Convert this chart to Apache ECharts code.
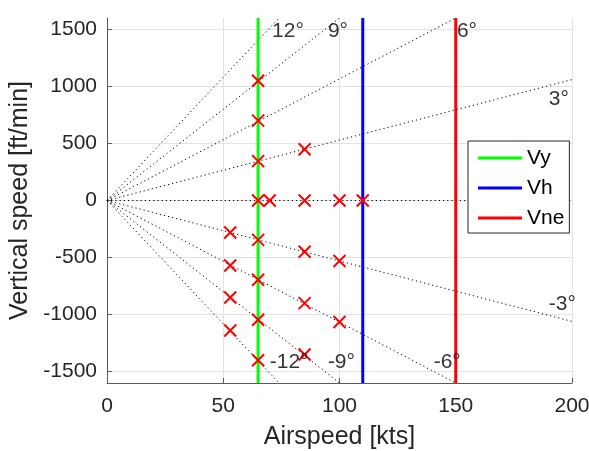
<!DOCTYPE html>
<html>
<head>
<meta charset="utf-8">
<script src="https://cdn.jsdelivr.net/npm/echarts@6/dist/echarts.min.js"></script>
<style>html,body{margin:0;padding:0;background:#fff;}#c{width:589px;height:451px;}</style>
</head>
<body>
<div id="c"></div>
<script>
// ---- data ----
const xTicks = [0, 50, 100, 150, 200];
const yTicks = [-1500, -1000, -500, 0, 500, 1000, 1500];
const xRange = [0, 200];
const yRange = [-1600, 1600];

const speedNames = ['Vy', 'Vh', 'Vne'];
const speedValues = [65, 110, 150];
const speedColors = ['#00ff00', '#0000ff', '#ff0000'];

// glide-angle reference lines: end point where each leaves the plot
const glideNames = ['3°', '6°', '9°', '12°', '0°', '-3°', '-6°', '-9°', '-12°'];
const glideEndX = [200, 150, 100, 74, 200, 200, 150, 100, 74];
const glideEndY = [1060, 1600, 1600, 1600, 0, -1060, -1600, -1600, -1600];

// annotation labels
const angleLabels = ['12°', '9°', '6°', '3°', '-3°', '-6°', '-9°', '-12°'];
const angleLabelX = [71, 95, 150.5, 190, 190, 140.5, 95, 70];
const angleLabelY = [1480, 1480, 1480, 886, -912, -1415, -1415, -1415];

// measured points
const pointX = [65, 65, 65, 65, 70, 85, 85, 100, 110,
                53, 53, 53, 53, 65, 65, 65, 65, 85, 85, 85, 100, 100];
const pointY = [1050, 700, 345, 0, 0, 450, 0, 0, 0,
                -280, -570, -850, -1140, -345, -695, -1045, -1400, -450, -900, -1350, -530, -1065];

// ---- chart ----
const font = 'Liberation Sans, Arial, sans-serif';
const textColor = '#262626';
const axisColor = '#5a5a5a';
const gridColor = '#e3e3e3';

const series = [];
glideNames.forEach((n, i) => {
  series.push({
    name: 'glide ' + n, type: 'line', silent: true, symbol: 'none', clip: true, z: 2,
    data: [[0, 0], [glideEndX[i], glideEndY[i]]],
    lineStyle: { color: '#000', width: 1, type: [1.2, 3] }
  });
});
speedNames.forEach((n, i) => {
  series.push({
    name: n, type: 'line', symbol: 'none', z: 3,
    data: [[speedValues[i], yRange[0]], [speedValues[i], yRange[1]]],
    lineStyle: { color: speedColors[i], width: 3 },
    itemStyle: { color: speedColors[i] }
  });
});
series.push({
  name: 'points', type: 'scatter', z: 5,
  symbol: 'path://M0,0L10,10M10,0L0,10', symbolSize: 12,
  itemStyle: { color: 'none', borderColor: '#ff0000', borderWidth: 2, opacity: 1 },
  data: pointX.map((x, i) => [x, pointY[i]])
});
series.push({
  name: 'labels', type: 'scatter', z: 6, silent: true, symbolSize: 0,
  data: angleLabelX.map((x, i) => ({ value: [x, angleLabelY[i]], name: angleLabels[i] })),
  label: {
    show: true, position: 'right', distance: 0, formatter: p => p.name,
    color: '#000', fontSize: 21, fontFamily: font
  }
});

const chart = echarts.init(document.getElementById('c'), null, { renderer: 'canvas' });
chart.setOption({
  animation: false,
  backgroundColor: '#fff',
  grid: { left: 107, right: 17, top: 18, bottom: 68, containLabel: false, outerBoundsMode: 'none' },
  xAxis: {
    type: 'value', min: xRange[0], max: xRange[1], interval: 50,
    name: 'Airspeed [kts]', nameLocation: 'middle', nameGap: 42,
    nameTextStyle: { color: textColor, fontSize: 25, fontFamily: font },
    axisLine: { show: true, onZero: false, lineStyle: { color: axisColor, width: 1 } },
    axisTick: { show: true, inside: true, length: 5, lineStyle: { color: axisColor } },
    axisLabel: { color: textColor, fontSize: 21, fontFamily: font, margin: 13, customValues: xTicks },
    splitLine: { show: true, lineStyle: { color: gridColor, width: 1 } }
  },
  yAxis: {
    type: 'value', min: yRange[0], max: yRange[1],
    name: 'Vertical speed [ft/min]', nameLocation: 'middle', nameGap: 69,
    nameTextStyle: { color: textColor, fontSize: 25, fontFamily: font },
    axisLine: { show: true, onZero: false, lineStyle: { color: axisColor, width: 1 } },
    axisTick: { show: true, inside: true, length: 5, lineStyle: { color: axisColor }, customValues: yTicks },
    axisLabel: { color: textColor, fontSize: 21, fontFamily: font, margin: 10, customValues: yTicks,
                 formatter: v => String(v) },
    splitLine: { show: true, lineStyle: { color: gridColor, width: 1 } }
  },
  legend: {
    data: speedNames.map(n => ({ name: n, icon: 'rect' })),
    orient: 'vertical', left: 468, top: 141,
    itemWidth: 44, itemHeight: 3, itemGap: 8,
    padding: [6, 5, 4, 10],
    backgroundColor: '#fff', borderColor: '#262626', borderWidth: 1, borderRadius: 0,
    textStyle: { color: '#000', fontSize: 21, fontFamily: font, lineHeight: 22 },
    selectedMode: false
  },
  series: series
});
</script>
</body>
</html>
